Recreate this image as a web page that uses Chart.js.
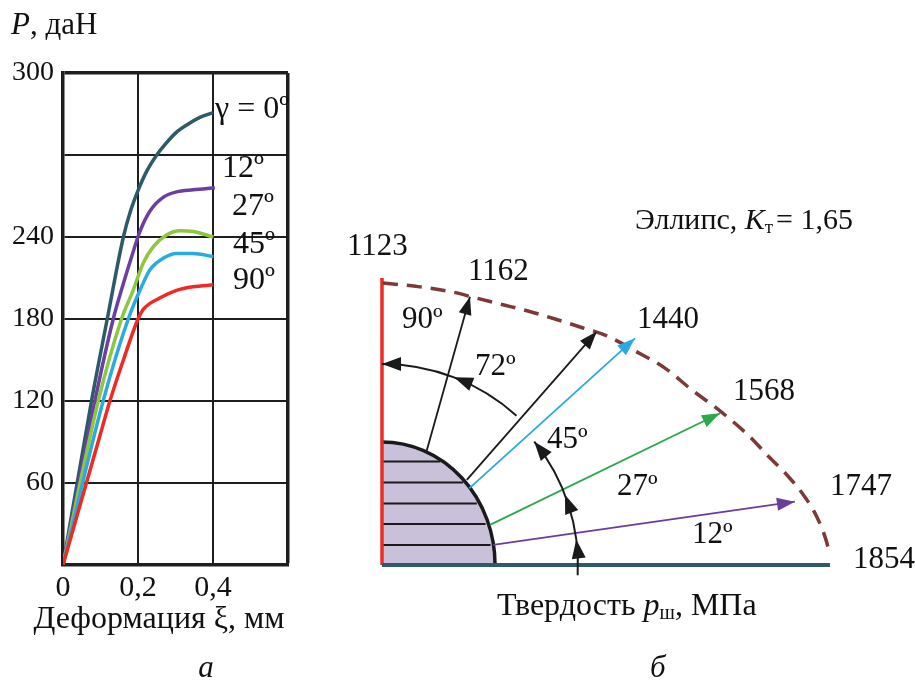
<!DOCTYPE html>
<html>
<head>
<meta charset="utf-8">
<script src="https://cdn.jsdelivr.net/npm/chart.js@4.4.1/dist/chart.umd.min.js"></script>
<style>
  html, body { margin: 0; padding: 0; background: #fff; }
  #wrap { position: relative; width: 915px; height: 682px; }
  canvas { position: absolute; left: 0; top: 0; }
</style>
</head>
<body>
<div id="wrap">
  <canvas id="chartA" width="915" height="682"></canvas>
  <canvas id="chartB" width="915" height="682"></canvas>
</div>
<script>
/* ---- data: chart a (load vs deformation) ---- */
var gamma0X  = [0, 0.076, 0.118, 0.161, 0.18, 0.2, 0.223, 0.25, 0.27, 0.3, 0.33, 0.365, 0.4];
var gamma0Y  = [0, 120, 180, 240, 259, 274, 288, 300, 307, 316, 322, 327.5, 331];
var gamma12X = [0, 0.085, 0.134, 0.16, 0.188, 0.205, 0.232, 0.267, 0.303, 0.347, 0.405];
var gamma12Y = [0, 120, 180, 205, 230, 244, 259, 269, 273, 274.5, 276];
var gamma27X = [0, 0.094, 0.156, 0.187, 0.214, 0.241, 0.276, 0.312, 0.347, 0.401];
var gamma27Y = [0, 120, 180, 201, 221, 233, 241.5, 244.6, 244, 240];
var gamma45X = [0, 0.107, 0.174, 0.21, 0.232, 0.267, 0.303, 0.347, 0.401];
var gamma45Y = [0, 120, 180, 204, 216, 224.4, 228, 228, 225.6];
var gamma90X = [0, 0.103, 0.125, 0.161, 0.2, 0.214, 0.259, 0.303, 0.347, 0.401];
var gamma90Y = [0, 99, 120, 150, 180, 187, 195.5, 201, 203.6, 205];
var curveLabels = ['γ = 0º', '12º', '27º', '45º', '90º'];
var xTickLabels = ['0', '0,2', '0,4', ''];
var yTickLabels = ['', '60', '120', '180', '240', '', '300'];

/* ---- data: chart b (hardness diagram, MPa) ---- */
var hardness = [1854, 1747, 1568, 1440, 1162, 1123];
var angleLabels = ['12º', '27º', '45º', '72º', '90º'];
var ellipseX = [4, 157, 290, 389, 505, 604, 716, 820, 931, 1047, 1171, 1283, 1378, 1515, 1598, 1672, 1747, 1800, 1838, 1854];
var ellipseY = [1167, 1151, 1130, 1105, 1076, 1051, 1018, 985, 948, 886, 815, 724, 654, 538, 451, 377, 286, 199, 103, 41];
var arrowStartX = [460, 447, 361, 351, 185];
var arrowStartY = [83, 166, 317, 352, 473];
var arrowEndX = [1709, 1399, 1047, 889, 364];
var arrowEndY = [262, 628, 938, 966, 1110];
var redLineTop = 1188;
var imprintRx = 468, imprintRy = 509;
var hatchY = [83, 170, 255, 341, 428];

var serif = '"Liberation Serif", "Times New Roman", serif';

function pts(xs, ys) {
  return xs.map(function (x, i) { return { x: x, y: ys[i] }; });
}

function curve(xs, ys, color) {
  return {
    data: pts(xs, ys), borderColor: color, borderWidth: 3.5,
    pointRadius: 0, fill: false, cubicInterpolationMode: 'monotone'
  };
}

/* ---- chart a ---- */
var textA = {
  id: 'textA',
  afterDraw: function (chart) {
    var ctx = chart.ctx;
    ctx.save();
    ctx.fillStyle = '#111';
    ctx.textBaseline = 'alphabetic';
    ctx.textAlign = 'left';
    ctx.font = 'italic 31px ' + serif;
    ctx.fillText('P', 11, 34);
    var w = ctx.measureText('P').width;
    ctx.font = '31px ' + serif;
    ctx.fillText(', даН', 11 + w, 34);

    ctx.textAlign = 'center';
    ctx.font = '32px ' + serif;
    ctx.fillText('Деформация ξ, мм', 159, 628);
    ctx.font = 'italic 31px ' + serif;
    ctx.fillText('а', 206, 677);

    ctx.textAlign = 'left';
    ctx.font = '32px ' + serif;
    var lx = [215, 222, 232, 233, 233];
    var ly = [118, 177, 215, 253, 289];
    curveLabels.forEach(function (t, i) { ctx.fillText(t, lx[i], ly[i]); });
    ctx.restore();
  }
};

var gridCol = '#1e1e1e';
new Chart(document.getElementById('chartA'), {
  type: 'line',
  data: {
    datasets: [
      curve(gamma90X, gamma90Y, '#ee2a24'),
      curve(gamma45X, gamma45Y, '#29abe2'),
      curve(gamma27X, gamma27Y, '#8dc63f'),
      curve(gamma12X, gamma12Y, '#6b3fa0'),
      curve(gamma0X, gamma0Y, '#2b5a69')
    ]
  },
  options: {
    responsive: false,
    animation: false,
    layout: { padding: { left: 0, top: 73, right: 627, bottom: 67 } },
    plugins: { legend: { display: false }, tooltip: { enabled: false } },
    scales: {
      x: {
        type: 'linear', min: 0, max: 0.6,
        afterFit: function (s) { s.height = 50; },
        border: { width: 3.5, color: gridCol },
        grid: {
          color: gridCol, drawTicks: false,
          lineWidth: function (c) { return c.tick && c.tick.value > 0.59 ? 3.5 : 2; }
        },
        ticks: {
          stepSize: 0.2, padding: 5, color: '#111', maxRotation: 0, autoSkip: false,
          font: { family: serif, size: 30 },
          callback: function (v, i) { return xTickLabels[i]; }
        }
      },
      y: {
        min: 0, max: 360,
        afterFit: function (s) { s.width = 63; },
        border: { width: 3.5, color: gridCol },
        grid: {
          color: gridCol, drawTicks: false,
          lineWidth: function (c) { return c.tick && c.tick.value >= 360 ? 3.5 : 2; }
        },
        ticks: {
          stepSize: 60, padding: 9, color: '#111', autoSkip: false,
          font: { family: serif, size: 28 },
          callback: function (v, i) { return yTickLabels[i]; }
        }
      }
    }
  },
  plugins: [textA]
});

/* ---- chart b ---- */
function arrowHead(ctx, x, y, ang, len, wid, color) {
  ctx.save();
  ctx.translate(x, y);
  ctx.rotate(ang);
  ctx.beginPath();
  ctx.moveTo(0, 0);
  ctx.lineTo(-len, wid / 2);
  ctx.lineTo(-len, -wid / 2);
  ctx.closePath();
  ctx.fillStyle = color;
  ctx.fill();
  ctx.restore();
}

var arrowColors = ['#6a3d9a', '#2aa84a', '#29a9e1', '#1a1a1a', '#1a1a1a'];
var upperArc = { r: 832, from: 48, to: 90, heads: [69, 90] };
var lowerArc = { r: 811, from: -3, to: 39, heads: [7.5, 21, 39] };

var drawB = {
  id: 'drawB',
  beforeDatasetsDraw: function (chart) {
    var ctx = chart.ctx, xs = chart.scales.x, ys = chart.scales.y;
    var ox = xs.getPixelForValue(0), oy = ys.getPixelForValue(0);
    var rx = xs.getPixelForValue(imprintRx) - ox, ry = oy - ys.getPixelForValue(imprintRy);
    ctx.save();
    ctx.beginPath();
    ctx.moveTo(ox, oy);
    ctx.ellipse(ox, oy, rx, ry, 0, 0, -Math.PI / 2, true);
    ctx.closePath();
    ctx.fillStyle = '#c9c0da';
    ctx.fill();
    ctx.strokeStyle = '#1a1a1a';
    ctx.lineWidth = 2;
    hatchY.forEach(function (h) {
      var py = ys.getPixelForValue(h);
      var dx = rx * Math.sqrt(1 - Math.pow((oy - py) / ry, 2));
      ctx.beginPath();
      ctx.moveTo(ox, py);
      ctx.lineTo(ox + dx - 3, py);
      ctx.stroke();
    });
    ctx.beginPath();
    ctx.ellipse(ox, oy, rx, ry, 0, 0, -Math.PI / 2, true);
    ctx.lineWidth = 3.5;
    ctx.stroke();
    ctx.restore();
  },
  afterDatasetsDraw: function (chart) {
    var ctx = chart.ctx, xs = chart.scales.x, ys = chart.scales.y;
    var ox = xs.getPixelForValue(0), oy = ys.getPixelForValue(0);
    ctx.save();
    // straight arrow heads
    arrowEndX.forEach(function (ex, i) {
      var x1 = xs.getPixelForValue(arrowStartX[i]), y1 = ys.getPixelForValue(arrowStartY[i]);
      var x2 = xs.getPixelForValue(ex), y2 = ys.getPixelForValue(arrowEndY[i]);
      arrowHead(ctx, x2, y2, Math.atan2(y2 - y1, x2 - x1), 18, 13, arrowColors[i]);
    });
    // angle arcs
    [upperArc, lowerArc].forEach(function (a) {
      var r = xs.getPixelForValue(a.r) - ox;
      var d = Math.PI / 180;
      ctx.beginPath();
      ctx.arc(ox, oy, r, -a.from * d, -a.to * d, true);
      ctx.strokeStyle = '#1a1a1a';
      ctx.lineWidth = 2;
      ctx.stroke();
      a.heads.forEach(function (t) {
        var th = t * d;
        arrowHead(ctx, ox + r * Math.cos(th), oy - r * Math.sin(th),
          Math.atan2(-Math.cos(th), -Math.sin(th)), 19, 14, '#1a1a1a');
      });
    });
    ctx.restore();
  },
  afterDraw: function (chart) {
    var ctx = chart.ctx;
    ctx.save();
    ctx.fillStyle = '#111';
    ctx.textAlign = 'left';
    ctx.textBaseline = 'alphabetic';
    ctx.font = '31px ' + serif;
    var vals = [[hardness[5], 347, 255], [hardness[4], 468, 280], [hardness[3], 637, 328],
                [hardness[2], 733, 400], [hardness[1], 830, 495], [hardness[0], 853, 568]];
    vals.forEach(function (v) { ctx.fillText(String(v[0]), v[1], v[2]); });
    var angs = [[angleLabels[4], 402, 328], [angleLabels[3], 475, 375], [angleLabels[2], 547, 448],
                [angleLabels[1], 617, 495], [angleLabels[0], 692, 543]];
    angs.forEach(function (v) { ctx.fillText(v[0], v[1], v[2]); });

    // title: Эллипс, Kт = 1,65
    ctx.font = '30px ' + serif;
    var x = 635, y = 229;
    ctx.fillText('Эллипс, ', x, y); x += ctx.measureText('Эллипс, ').width;
    ctx.font = 'italic 30px ' + serif;
    ctx.fillText('K', x, y); x += ctx.measureText('K').width;
    ctx.font = '19px ' + serif;
    ctx.fillText('т', x, y + 4); x += ctx.measureText('т').width;
    ctx.font = '30px ' + serif;
    ctx.fillText('= 1,65', x + 3, y);

    // axis caption: Твердость pш, МПа
    ctx.font = '32px ' + serif;
    x = 497; y = 615;
    ctx.fillText('Твердость ', x, y); x += ctx.measureText('Твердость ').width;
    ctx.font = 'italic 32px ' + serif;
    ctx.fillText('p', x, y); x += ctx.measureText('p').width;
    ctx.font = '20px ' + serif;
    ctx.fillText('ш', x, y + 4); x += ctx.measureText('ш').width;
    ctx.font = '32px ' + serif;
    ctx.fillText(', МПа', x, y);

    ctx.font = 'italic 31px ' + serif;
    ctx.fillText('б', 650, 677);
    ctx.restore();
  }
};

var bSets = [
  { data: pts(ellipseX, ellipseY), borderColor: '#7d3838', borderWidth: 3.5, borderDash: [15, 9],
    pointRadius: 0, fill: false, cubicInterpolationMode: 'monotone' },
  { data: [{ x: 0, y: 0 }, { x: hardness[0], y: 0 }], borderColor: '#2e5a6b', borderWidth: 4, pointRadius: 0 },
  { data: [{ x: 0, y: 0 }, { x: 0, y: redLineTop }], borderColor: '#ee2b24', borderWidth: 3.5, pointRadius: 0 }
];
arrowEndX.forEach(function (ex, i) {
  bSets.push({
    data: [{ x: arrowStartX[i], y: arrowStartY[i] }, { x: ex, y: arrowEndY[i] }],
    borderColor: arrowColors[i], borderWidth: 1.8, pointRadius: 0
  });
});

new Chart(document.getElementById('chartB'), {
  type: 'line',
  data: { datasets: bSets },
  options: {
    responsive: false,
    animation: false,
    layout: { padding: 0 },
    plugins: { legend: { display: false }, tooltip: { enabled: false } },
    scales: {
      x: { type: 'linear', display: false, min: -1581, max: 2206 },
      y: { type: 'linear', display: false, min: -484, max: 2338 }
    }
  },
  plugins: [drawB]
});
</script>
</body>
</html>
